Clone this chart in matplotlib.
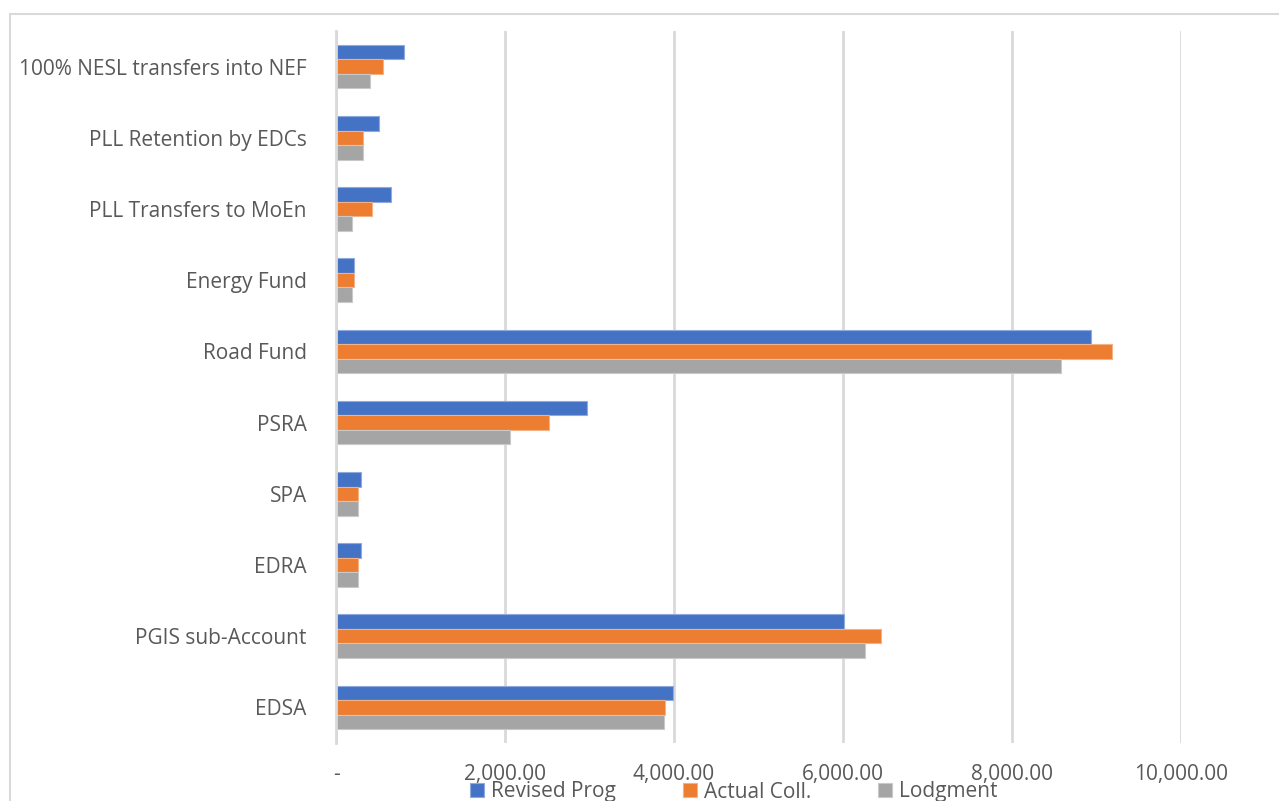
import matplotlib
matplotlib.use("Agg")
import matplotlib.pyplot as plt
from matplotlib.patches import Rectangle
import numpy as np

categories = ["EDSA", "PGIS sub-Account", "EDRA", "SPA", "PSRA", "Road Fund",
              "Energy Fund", "PLL Transfers to MoEn", "PLL Retention by EDCs",
              "100% NESL transfers into NEF"]
revised_prog = [3990, 6010, 300, 300, 2970, 8930, 210, 655, 505, 805]
actual_coll = [3895, 6445, 255, 255, 2515, 9180, 210, 425, 315, 555]
lodgment = [3880, 6260, 255, 255, 2060, 8575, 195, 190, 315, 400]
series_names = ["Revised Prog", "Actual Coll.", "Lodgment"]
colors = ["#4472C4", "#ED7D31", "#A5A5A5"]
edge_colors = ["#8FAADC", "#F4B183", "#C9C9C9"]
xticks = [0, 2000, 4000, 6000, 8000, 10000]
xtick_labels = ["-", "2,000.00", "4,000.00", "6,000.00", "8,000.00", "10,000.00"]

plt.rcParams['font.family'] = ['Open Sans', 'DejaVu Sans']

W, H = 1279, 801
fig = plt.figure(figsize=(W / 100, H / 100), dpi=100)
ax = fig.add_axes([336 / W, 1 - 743 / H, (1181 - 336) / W, (743 - 31) / H])

# outer chart border
fig.patches.append(Rectangle((10 / W, -0.1), 1.2, (1 - 14 / H) + 0.1, transform=fig.transFigure,
                             fill=False, edgecolor="#D9D9D9", linewidth=1.5))

y = np.arange(len(categories))
h = 0.205
for i, (vals, c, ec, name) in enumerate(zip([revised_prog, actual_coll, lodgment], colors, edge_colors, series_names)):
    ax.barh(y + (1 - i) * h, vals, height=h, color=c, edgecolor=ec, linewidth=0.8, label=name, zorder=3)

ax.set_xlim(0, 10000)
ax.set_ylim(-0.5, len(categories) - 0.5)
ax.set_xticks(xticks)
ax.set_xticklabels(xtick_labels, fontsize=15, color="#595959")
ax.set_yticks(y)
ax.set_yticklabels(categories, color="#595959", fontsize=15)
ax.tick_params(axis='x', length=0, pad=15)
ax.tick_params(axis='y', length=0, pad=21)
ax.grid(axis='x', color="#D9D9D9", linewidth=2, zorder=0)
for s in ["top", "right", "bottom"]:
    ax.spines[s].set_visible(False)
ax.spines["left"].set_color("#D9D9D9")
ax.spines["left"].set_linewidth(2)
ax.spines["left"].set_zorder(4)

handles, labels = ax.get_legend_handles_labels()
leg = fig.legend(handles, labels, loc="center left", bbox_to_anchor=(470 / W, 1 - 792 / H), ncol=3,
                 frameon=False, fontsize=15, handlelength=0.67, handleheight=0.67,
                 columnspacing=3.2, handletextpad=0.34, borderpad=0, borderaxespad=0)
for t in leg.get_texts():
    t.set_color("#595959")

fig.savefig("out.png", dpi=100)
